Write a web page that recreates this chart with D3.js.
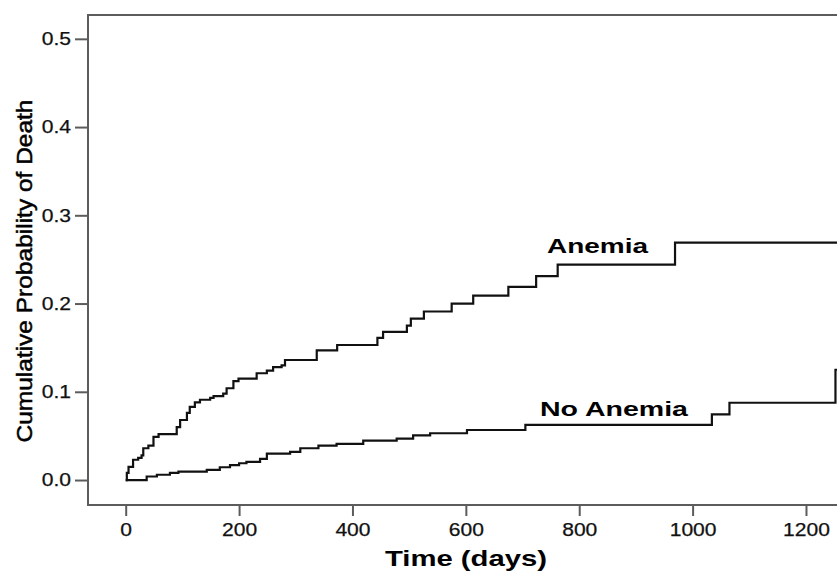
<!DOCTYPE html>
<html>
<head>
<meta charset="utf-8">
<script src="https://cdn.jsdelivr.net/npm/d3@7"></script>
<style>
    body { margin: 0; background: #fff; }
    svg { display: block; font-family: "Liberation Sans", Arial, sans-serif; }
</style>
</head>
<body>
<svg width="837" height="571"></svg>
<script>
'use strict';

// Kaplan-Meier style step data: [time in days, cumulative probability]
const anemiaTimes = [0, 2, 5, 13, 22, 28, 31, 40, 49, 58, 90, 96, 108, 113, 122, 131, 149, 155, 172, 178,
    190, 199, 231, 249, 260, 275, 281, 337, 373, 444, 454, 496, 503, 526, 575, 613, 675, 724, 762, 969];
const anemiaValues = [0, 0.008, 0.015, 0.023, 0.025, 0.028, 0.036, 0.039, 0.049, 0.052, 0.060, 0.068, 0.076, 0.083, 0.088, 0.091, 0.093, 0.095, 0.098, 0.104,
    0.112, 0.115, 0.121, 0.124, 0.128, 0.130, 0.136, 0.147, 0.153, 0.161, 0.168, 0.175, 0.183, 0.191, 0.200, 0.209, 0.219, 0.231, 0.244, 0.269];

const noAnemiaTimes = [0, 25, 37, 55, 78, 93, 143, 166, 184, 200, 213, 237, 249, 290, 308, 340, 372, 419, 478, 507,
    537, 602, 705, 1034, 1065, 1252];
const noAnemiaValues = [0, 0, 0.004, 0.006, 0.008, 0.0095, 0.0115, 0.0145, 0.017, 0.019, 0.0205, 0.024, 0.030, 0.032, 0.036, 0.039, 0.041, 0.0446, 0.047, 0.0506,
    0.053, 0.0567, 0.0624, 0.0745, 0.0876, 0.125];

const xTicks = [0, 200, 400, 600, 800, 1000, 1200];
const yTicks = [0, 0.1, 0.2, 0.3, 0.4, 0.5];

const X_MIN = -66.5, X_MAX = 1260;
const Y_MIN = -0.0283, Y_MAX = 0.527;

const svg = d3.select("svg");

const x = d3.scaleLinear().domain([X_MIN, X_MAX]).range([88, 840]);
const y = d3.scaleLinear().domain([Y_MIN, Y_MAX]).range([505, 15]);

/**
 * Zip two arrays into step points and carry the last value to the right edge
 */
function toPoints(times, values) {
    let pts = times.map((t, i) => [t, values[i]]);
    pts.push([X_MAX, values[values.length - 1]]);
    return pts;
}

svg.append("clipPath").attr("id", "plotClip")
    .append("rect")
    .attr("x", x(X_MIN)).attr("y", y(Y_MAX))
    .attr("width", x(X_MAX) - x(X_MIN)).attr("height", y(Y_MIN) - y(Y_MAX));

// axes
let yAxis = svg.append("g")
    .attr("transform", "translate(" + x(X_MIN) + ",0)")
    .call(d3.axisLeft(y).tickValues(yTicks).tickSize(13).tickPadding(4).tickFormat(d3.format(".1f")));
let xAxis = svg.append("g")
    .attr("transform", "translate(0," + y(Y_MIN) + ")")
    .call(d3.axisBottom(x).tickValues(xTicks).tickSize(11).tickPadding(7).tickFormat(d3.format("d")));

[xAxis, yAxis].forEach(a => {
    a.select(".domain").remove();
    a.selectAll(".tick line").attr("stroke", "#5c5c5c").attr("stroke-width", 2);
    a.selectAll(".tick text")
        .attr("fill", "#111")
        .attr("stroke", "#111").attr("stroke-width", 0.25)
        .style("font-size", "18px")
        .attr("textLength", function () { return this.getComputedTextLength() * 1.17; })
        .attr("lengthAdjust", "spacingAndGlyphs");
});

// frame (right side lies outside the picture)
svg.append("path")
    .attr("d", "M" + x(X_MAX) + "," + y(Y_MAX) + "H" + x(X_MIN) + "V" + y(Y_MIN) + "H" + x(X_MAX))
    .attr("fill", "none")
    .attr("stroke", "#5c5c5c")
    .attr("stroke-width", 2);

// curves
const line = d3.line()
    .x(d => x(d[0]))
    .y(d => y(d[1]))
    .curve(d3.curveStepAfter);

[toPoints(anemiaTimes, anemiaValues), toPoints(noAnemiaTimes, noAnemiaValues)].forEach(pts => {
    svg.append("path")
        .attr("clip-path", "url(#plotClip)")
        .attr("d", line(pts))
        .attr("fill", "none")
        .attr("stroke", "#111")
        .attr("stroke-width", 2.2);
});

// curve labels
svg.append("text")
    .attr("x", 547).attr("y", 253)
    .attr("font-weight", "bold").style("font-size", "21px")
    .attr("textLength", 101).attr("lengthAdjust", "spacingAndGlyphs")
    .text("Anemia");
svg.append("text")
    .attr("x", 540).attr("y", 416)
    .attr("font-weight", "bold").style("font-size", "21px")
    .attr("textLength", 148).attr("lengthAdjust", "spacingAndGlyphs")
    .text("No Anemia");

// axis titles
svg.append("text")
    .attr("x", 466).attr("y", 566)
    .attr("text-anchor", "middle")
    .attr("font-weight", "bold").style("font-size", "22px")
    .attr("textLength", 162).attr("lengthAdjust", "spacingAndGlyphs")
    .text("Time (days)");
svg.append("text")
    .attr("transform", "translate(32,271) rotate(-90)")
    .attr("text-anchor", "middle")
    .style("font-size", "22px")
    .attr("stroke", "#000").attr("stroke-width", 0.5)
    .attr("textLength", 343).attr("lengthAdjust", "spacingAndGlyphs")
    .text("Cumulative Probability of Death");
</script>
</body>
</html>
